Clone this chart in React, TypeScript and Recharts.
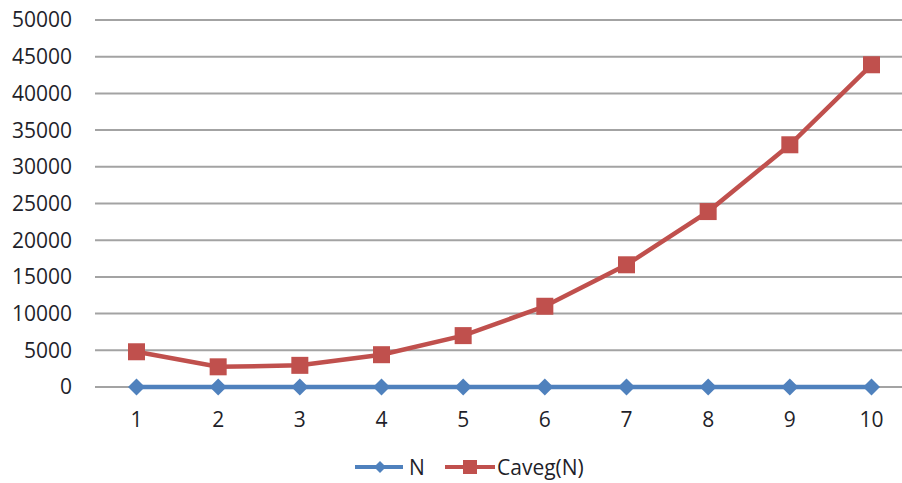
import { CartesianGrid, Legend, Line, LineChart, XAxis, YAxis } from "recharts";

const CATEGORIES = ["1", "2", "3", "4", "5", "6", "7", "8", "9", "10"];
const N_VALUES = [1, 2, 3, 4, 5, 6, 7, 8, 9, 10];
const CAVEG_VALUES = [4800, 2750, 2950, 4400, 7000, 11000, 16650, 23900, 33000, 43900];
const Y_TICKS = [0, 5000, 10000, 15000, 20000, 25000, 30000, 35000, 40000, 45000, 50000];

const BLUE = "#4f81bd";
const RED = "#c0504d";
const FONT = "'Open Sans', 'Liberation Sans', sans-serif";

const rows = CATEGORIES.map((c, i) => ({ n: c, N: N_VALUES[i], caveg: CAVEG_VALUES[i] }));

function DiamondDot(props: any) {
  const { cx, cy } = props;
  if (cx == null || cy == null) return null;
  const r = 8.5;
  return (
    <path
      d={`M${cx},${cy - r} L${cx + r},${cy} L${cx},${cy + r} L${cx - r},${cy} Z`}
      fill={BLUE}
    />
  );
}

function SquareDot(props: any) {
  const { cx, cy } = props;
  if (cx == null || cy == null) return null;
  const h = 8.5;
  return <rect x={cx - h} y={cy - h} width={h * 2} height={h * 2} fill={RED} />;
}

function LegendBox() {
  return (
    <svg width={902} height={34} style={{ display: "block" }}>
      <g transform="translate(0,17)">
        <line x1={355} x2={403} y1={0} y2={0} stroke={BLUE} strokeWidth={4} />
        <path d="M380,-6 L386,0 L380,6 L374,0 Z" fill={BLUE} />
        <text x={409} y={0} dy="0.36em" fontSize={21} fill="#1f1f2a" fontFamily={FONT}>
          N
        </text>
        <line x1={445} x2={495} y1={0} y2={0} stroke={RED} strokeWidth={4} />
        <rect x={463} y={-7} width={14} height={14} fill={RED} />
        <text x={497} y={0} dy="0.36em" fontSize={21} fill="#1f1f2a" fontFamily={FONT}>
          Caveg(N)
        </text>
      </g>
    </svg>
  );
}

export default function App() {
  return (
    <div
      style={{
        position: "absolute",
        left: 0,
        top: 0,
        width: 902,
        height: 483,
        overflow: "hidden",
        background: "#fff",
      }}
    >
      <LineChart
        width={930}
        height={483}
        data={rows}
        margin={{ top: 20, right: 17, bottom: 0, left: 0 }}
      >
        <CartesianGrid vertical={false} stroke="#a3a3a3" strokeWidth={2} />
        <XAxis
          dataKey="n"
          height={96}
          padding={{ left: 41.5, right: 41.5 }}
          axisLine={false}
          tickLine={false}
          tickSize={0}
          tickMargin={25}
          tick={{ fontSize: 21, fill: "#1f1f2a", fontFamily: FONT }}
        />
        <YAxis
          width={95}
          domain={[0, 50000]}
          ticks={Y_TICKS}
          interval={0}
          axisLine={false}
          tickLine={false}
          tickSize={0}
          tickMargin={23}
          tick={{ fontSize: 21, fill: "#1f1f2a", fontFamily: FONT }}
        />
        <Legend
          layout="horizontal"
          verticalAlign="middle"
          align="center"
          wrapperStyle={{ top: 450, left: 0, width: 902 }}
          content={() => <LegendBox />}
        />
        <Line
          dataKey="N"
          stroke={BLUE}
          strokeWidth={4.5}
          dot={<DiamondDot />}
          activeDot={false}
          isAnimationActive={false}
        />
        <Line
          dataKey="caveg"
          name="Caveg(N)"
          stroke={RED}
          strokeWidth={4.5}
          dot={<SquareDot />}
          activeDot={false}
          isAnimationActive={false}
        />
      </LineChart>
    </div>
  );
}
